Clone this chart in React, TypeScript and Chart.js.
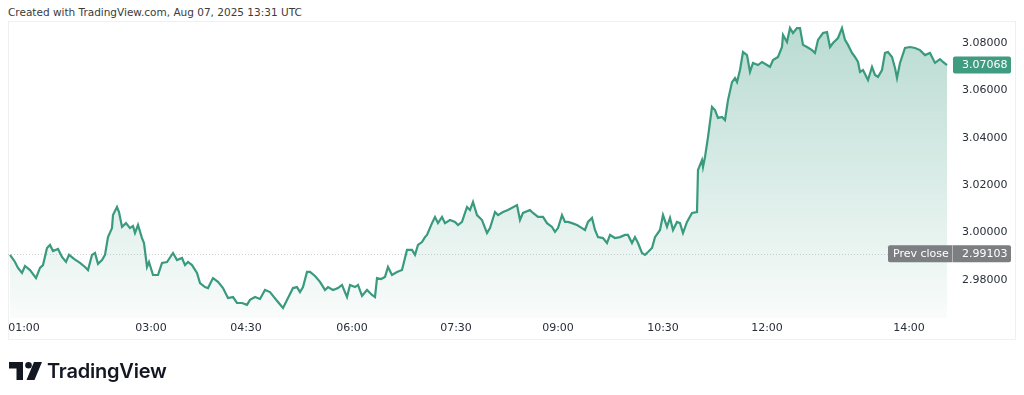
import React, { useEffect, useRef } from "react";
import { Chart, registerables } from "chart.js";

Chart.register(...registerables);

// bar index along the session (TradingView places bars evenly, not by clock time)
const bars = [
  2, 7, 10, 14, 17, 22, 28, 32, 35, 39, 42, 45, 50, 54, 58, 61, 66, 72, 77, 80,
  84, 87, 90, 94, 97, 100, 104, 105, 109, 111, 114, 118, 122, 125, 127, 130, 134, 136, 139, 141,
  145, 150, 154, 159, 165, 169, 174, 177, 180, 184, 189, 192, 197, 200, 205, 210, 215, 220, 225, 229,
  234, 239, 242, 247, 252, 257, 262, 265, 270, 275, 280, 285, 289, 292, 295, 299, 302, 307, 312, 317,
  320, 325, 330, 334, 339, 342, 347, 350, 354, 359, 364, 367, 369, 373, 377, 380, 384, 389, 394, 399,
  404, 407, 410, 414, 417, 419, 424, 427, 430, 434, 437, 442, 447, 450, 454, 459, 462, 465, 469, 474,
  479, 482, 487, 490, 495, 500, 509, 512, 515, 522, 525, 530, 535, 539, 544, 547, 550, 554, 557, 560,
  564, 569, 574, 577, 580, 584, 587, 590, 595, 599, 602, 607, 612, 617, 620, 624, 627, 630, 634, 637,
  640, 644, 647, 652, 655, 659, 662, 665, 669, 672, 675, 679, 684, 689, 690, 694, 695, 697, 700, 704,
  707, 710, 714, 717, 720, 724, 727, 729, 732, 735, 739, 742, 745, 750, 754, 759, 762, 765, 770, 774,
  775, 779, 782, 785, 789, 792, 795, 799, 804, 807, 810, 815, 819, 822, 825, 830, 834, 837, 840, 844,
  847, 850, 852, 855, 860, 864, 867, 870, 874, 877, 880, 884, 887, 889, 892, 897, 902, 907, 912,
  917, 922, 927, 932, 935, 939,
];

const prices = [
  2.9906, 2.9876, 2.9851, 2.9830, 2.9859, 2.9842, 2.9808, 2.9851, 2.9863, 2.9935,
  2.9948, 2.9922, 2.9931, 2.9897, 2.9876, 2.9906, 2.9889, 2.9872, 2.9855, 2.9842,
  2.9906, 2.9914, 2.9868, 2.9884, 2.9906, 2.9981, 3.0019, 3.0074, 3.0108, 3.0087,
  3.0024, 3.0040, 3.0019, 3.0028, 2.9998, 3.0032, 2.9977, 2.9956, 2.9855, 2.9876,
  2.9821, 2.9821, 2.9872, 2.9876, 2.9914, 2.9884, 2.9893, 2.9863, 2.9876, 2.9863,
  2.9830, 2.9787, 2.9770, 2.9766, 2.9808, 2.9792, 2.9766, 2.9724, 2.9728, 2.9703,
  2.9703, 2.9695, 2.9716, 2.9728, 2.9720, 2.9758, 2.9749, 2.9733, 2.9707, 2.9682,
  2.9724, 2.9766, 2.9770, 2.9749, 2.9770, 2.9834, 2.9834, 2.9817, 2.9792, 2.9758,
  2.9770, 2.9758, 2.9766, 2.9779, 2.9728, 2.9779, 2.9770, 2.9779, 2.9733, 2.9758,
  2.9737, 2.9728, 2.9808, 2.9804, 2.9813, 2.9855, 2.9821, 2.9834, 2.9842, 2.9927,
  2.9927, 2.9906, 2.9948, 2.9960, 2.9981, 2.9990, 3.0040, 3.0066, 3.0040, 3.0066,
  3.0040, 3.0053, 3.0045, 3.0032, 3.0045, 3.0108, 3.0095, 3.0129, 3.0074, 3.0053,
  2.9998, 3.0019, 3.0087, 3.0074, 3.0087, 3.0095, 3.0116, 3.0053, 3.0083, 3.0095,
  3.0083, 3.0066, 3.0066, 3.0040, 3.0024, 3.0003, 3.0019, 3.0074, 3.0045, 3.0045,
  3.0040, 3.0032, 3.0019, 3.0011, 3.0045, 3.0062, 3.0011, 2.9981, 2.9977, 2.9956,
  2.9990, 2.9977, 2.9981, 2.9990, 2.9990, 2.9956, 2.9981, 2.9956, 2.9914, 2.9906,
  2.9918, 2.9935, 2.9981, 3.0011, 3.0074, 3.0024, 3.0062, 3.0011, 3.0045, 3.0040,
  2.9998, 3.0045, 3.0083, 3.0087, 3.0264, 3.0306, 3.0277, 3.0319, 3.0403, 3.0530,
  3.0517, 3.0484, 3.0488, 3.0475, 3.0559, 3.0635, 3.0652, 3.0635, 3.0686, 3.0762,
  3.0749, 3.0678, 3.0716, 3.0707, 3.0720, 3.0707, 3.0699, 3.0728, 3.0741, 3.0783,
  3.0834, 3.0804, 3.0863, 3.0842, 3.0863, 3.0863, 3.0792, 3.0783, 3.0770, 3.0758,
  3.0813, 3.0842, 3.0846, 3.0783, 3.0800, 3.0821, 3.0863, 3.0813, 3.0792, 3.0758,
  3.0741, 3.0720, 3.0678, 3.0686, 3.0644, 3.0699, 3.0665, 3.0657, 3.0686,
  3.0758, 3.0762, 3.0741, 3.0695, 3.0652, 3.0716, 3.0779, 3.0783, 3.0779, 3.0770,
  3.0749, 3.0758, 3.0716, 3.0732, 3.0720, 3.07068,
];

const timeTickBars = [16, 143, 238, 344, 448, 550, 655, 759, 901];
const timeTickLabels = ["01:00", "03:00", "04:30", "06:00", "07:30", "09:00", "10:30", "12:00", "14:00"];
const priceTicks = [2.98, 3.0, 3.02, 3.04, 3.06, 3.08];
const lastPrice = 3.07068;
const prevClose = 2.99103;

const LINE = "#3a9a7e";
const FONT = '"DejaVu Sans", sans-serif';

const priceLabels = {
  id: "priceLabels",
  beforeDatasetsDraw(chart: any) {
    const { ctx, chartArea, scales } = chart;
    const py = Math.round(scales.y.getPixelForValue(prevClose)) + 0.5;
    ctx.save();
    ctx.strokeStyle = "rgba(120,123,134,0.35)";
    ctx.lineWidth = 1;
    ctx.setLineDash([1, 2]);
    ctx.beginPath();
    ctx.moveTo(chartArea.left, py);
    ctx.lineTo(chartArea.right - 62, py);
    ctx.stroke();
    ctx.restore();
  },
  afterDraw(chart: any) {
    const { ctx, chartArea, scales } = chart;
    const r = chartArea.right;
    ctx.save();
    ctx.font = `11px ${FONT}`;
    ctx.textBaseline = "middle";
    ctx.textAlign = "left";
    // last price label
    const ly = scales.y.getPixelForValue(lastPrice);
    ctx.fillStyle = "#3f9c80";
    ctx.beginPath();
    (ctx as any).roundRect(r + 3, ly - 8.5, 58, 17, 2);
    ctx.fill();
    ctx.fillStyle = "#ffffff";
    ctx.fillText(lastPrice.toFixed(5), r + 12, ly + 0.5);
    // prev close label
    const py = scales.y.getPixelForValue(prevClose);
    ctx.fillStyle = "#7d7e82";
    ctx.beginPath();
    (ctx as any).roundRect(r - 62, py - 8.5, 123, 17, 2);
    ctx.fill();
    ctx.strokeStyle = "rgba(255,255,255,0.45)";
    ctx.lineWidth = 1;
    ctx.beginPath();
    ctx.moveTo(r + 2.5, py - 8.5);
    ctx.lineTo(r + 2.5, py + 8.5);
    ctx.stroke();
    ctx.fillStyle = "#ffffff";
    ctx.fillText("Prev close", r - 57, py + 0.5);
    ctx.fillText(prevClose.toFixed(5), r + 12, py + 0.5);
    ctx.restore();
  },
};

function App() {
  const ref = useRef<HTMLCanvasElement | null>(null);

  useEffect(() => {
    if (!ref.current) return;
    const data = bars.map((b, i) => ({ x: b, y: prices[i] }));
    const chart = new Chart(ref.current, {
      type: "line",
      data: {
        datasets: [
          {
            data,
            borderColor: LINE,
            borderWidth: 2.2,
            pointRadius: 0,
            tension: 0,
            fill: "start",
            backgroundColor: (c: any) => {
              const { chart: ch } = c;
              const area = ch.chartArea;
              if (!area) return "rgba(58,154,126,0.15)";
              const g = ch.ctx.createLinearGradient(0, area.top, 0, area.bottom);
              g.addColorStop(0, "rgba(58,154,126,0.36)");
              g.addColorStop(1, "rgba(58,154,126,0.03)");
              return g;
            },
          },
        ],
      },
      options: {
        animation: false,
        responsive: false,
        devicePixelRatio: 1,
        layout: { padding: { left: 8, top: 22, right: 0, bottom: 55 } },
        plugins: { legend: { display: false }, tooltip: { enabled: false } },
        scales: {
          x: {
            type: "linear",
            min: 0,
            max: 942,
            grid: { display: false, drawTicks: false },
            border: { display: false },
            afterBuildTicks: (s: any) => {
              s.ticks = timeTickBars.map((v) => ({ value: v }));
            },
            afterFit: (s: any) => {
              s.height = 22;
            },
            ticks: {
              autoSkip: false,
              maxRotation: 0,
              padding: 4,
              color: "#2a2e39",
              font: { family: FONT, size: 11 },
              callback: (v: any) => {
                const i = timeTickBars.indexOf(Number(v));
                return i >= 0 ? timeTickLabels[i] : "";
              },
            },
          },
          y: {
            position: "right",
            min: 2.98 - 38 / 2370,
            max: 3.08 + 21 / 2370,
            grid: { display: false, drawTicks: false },
            border: { display: false },
            afterBuildTicks: (s: any) => {
              s.ticks = priceTicks.map((v) => ({ value: v }));
            },
            afterFit: (s: any) => {
              s.width = 74;
            },
            ticks: {
              padding: 12,
              color: "#2a2e39",
              font: { family: FONT, size: 11 },
              callback: (v: any) => Number(v).toFixed(5),
            },
          },
        },
      },
      plugins: [priceLabels],
    });
    return () => chart.destroy();
  }, []);

  return (
    <div style={{ position: "fixed", left: 0, top: 0, width: 1024, height: 395, background: "#fff", overflow: "hidden" }}>
      <div
        style={{
          position: "absolute",
          left: 8,
          top: 4,
          font: `10.5px ${FONT}`,
          color: "#3b3b3b",
          whiteSpace: "nowrap",
          lineHeight: "16px",
        }}
      >
        Created with TradingView.com, Aug 07, 2025 13:31 UTC
      </div>
      <div
        style={{
          position: "absolute",
          left: 8,
          top: 21,
          width: 1008,
          height: 319,
          border: "1px solid #f0f0f0",
          boxSizing: "border-box",
        }}
      />
      <canvas ref={ref} width={1024} height={395} style={{ position: "absolute", left: 0, top: 0, width: 1024, height: 395 }} />
      <svg style={{ position: "absolute", left: 9, top: 361 }} width={34} height={20} viewBox="0 0 34 20">
        <path d="M0 1 H14 V19 H7.5 V7.5 H0 Z" fill="#131722" />
        <circle cx="19.5" cy="4.3" r="3.3" fill="#131722" />
        <path d="M25 1 H33 L25.5 19 H17.5 Z" fill="#131722" />
      </svg>
      <div
        style={{
          position: "absolute",
          left: 47,
          top: 358,
          font: `600 20px Inter, sans-serif`,
          color: "#131722",
          lineHeight: "26px",
          whiteSpace: "nowrap",
          letterSpacing: "-0.2px",
        }}
      >
        TradingView
      </div>
    </div>
  );
}

export default App;
